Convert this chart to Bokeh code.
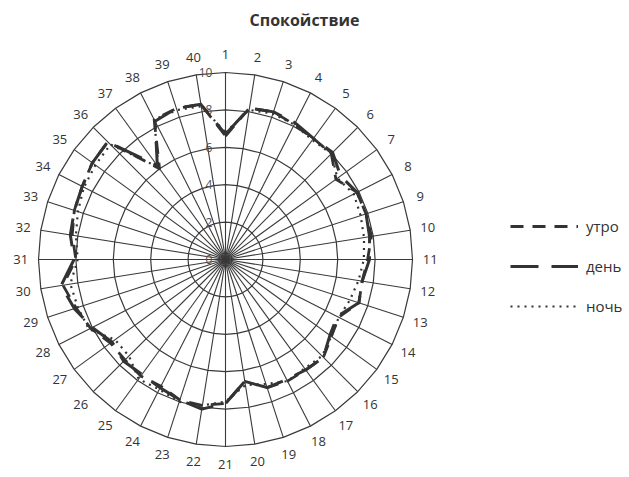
import numpy as np
from bokeh.plotting import figure
from bokeh.models import Range1d, Legend, LegendItem, Label
from bokeh.embed import file_html
from bokeh.resources import INLINE
from bokeh.core.properties import value

title_text = "Спокойствие"
spoke_labels = [str(i) for i in range(1, 41)]
ring_values = [0, 2, 4, 6, 8, 10]
ring_labels = ["0", "2", "4", "6", "8", "10"]
series_names = ["утро", "день", "ночь"]

utro = [6.6, 8.2, 8.3, 8.1, 8.0, 8.0, 7.3, 7.9, 7.9, 7.9,
        7.6, 7.4, 7.5, 6.8, 7.0, 7.4, 7.3, 7.3, 7.2, 6.6,
        7.7, 7.9, 7.9, 7.6, 7.7, 7.6, 7.6, 8.1, 8.4, 8.8,
        8.0, 8.3, 8.5, 8.6, 8.8, 8.9, 6.0, 8.4, 8.5, 8.4]
den = [6.7, 8.2, 8.3, 8.2, 8.0, 8.1, 7.6, 7.9, 7.9, 7.8,
       7.7, 7.4, 7.5, 6.7, 6.9, 7.4, 7.3, 7.2, 7.2, 6.6,
       7.7, 8.1, 7.9, 7.7, 7.6, 7.7, 7.5, 8.0, 8.5, 8.9,
       8.1, 8.4, 8.5, 8.6, 8.8, 8.9, 6.2, 8.3, 8.5, 8.4]
noch = [6.8, 8.1, 8.2, 8.1, 7.9, 8.0, 7.4, 7.7, 7.6, 7.5,
        7.4, 7.2, 7.0, 6.8, 7.0, 7.3, 7.2, 7.3, 7.0, 6.8,
        7.6, 7.9, 8.0, 7.8, 7.9, 7.3, 7.3, 8.2, 8.3, 8.4,
        7.9, 8.1, 8.3, 8.5, 8.6, 8.7, 6.1, 8.4, 8.4, 8.3]

W, H = 629, 477
S = 18.7            # pixels per value unit
CX, CY = 225, 259   # centre of the radar, in pixels from the top-left of the figure

p = figure(width=W, height=H, output_backend="svg", toolbar_location=None,
           x_range=Range1d(-CX / S, (W - CX) / S),
           y_range=Range1d(-(H - CY) / S, CY / S),
           x_axis_location=None, y_axis_location=None, min_border=0)
p.grid.visible = False
p.outline_line_color = None
p.background_fill_color = "white"
p.border_fill_color = "white"

n = len(spoke_labels)
theta = np.arange(n) * 2 * np.pi / n
sin_t, cos_t = np.sin(theta), np.cos(theta)
rmax = max(ring_values)

# grid rings (polygons) and spokes
ring_xs, ring_ys = [], []
for r in ring_values[1:]:
    ring_xs.append(list(np.append(r * sin_t, r * sin_t[0])))
    ring_ys.append(list(np.append(r * cos_t, r * cos_t[0])))
p.multi_line(ring_xs, ring_ys, line_color="#3a3a3a", line_width=1.2)
p.multi_line([[0, rmax * s] for s in sin_t], [[0, rmax * c] for c in cos_t],
             line_color="#3a3a3a", line_width=1.1)

# ring value labels
p.text(x=[-0.7] * len(ring_values), y=ring_values, text=ring_labels,
       text_align="right", text_baseline="middle", text_font=value("Open Sans"),
       text_font_size="12px", text_color="#505050")

# spoke labels
lr = 10.95
p.text(x=list(lr * sin_t), y=list(lr * cos_t), text=spoke_labels,
       text_align="center", text_baseline="middle", text_font=value("Open Sans"),
       text_font_size="13px", text_color="#333333")

def closed(vals):
    v = np.array(vals + vals[:1], dtype=float)
    t = np.append(theta, theta[0])
    return list(v * np.sin(t)), list(v * np.cos(t))

styles = [
    (utro, "13 9", 2.8),
    (den, "28 13", 3.0),
    (noch, "2 5", 2.2),
]
items = []
for name, (vals, dash, lw) in zip(series_names, styles):
    xs, ys = closed(vals)
    r = p.line(xs, ys, line_color="#333333", line_width=lw, line_dash=dash,
               line_join="round")
    items.append(LegendItem(label=name, renderers=[r]))

legend = Legend(items=items, location=(510, 161), orientation="vertical",
                glyph_width=68, glyph_height=20, label_height=20, spacing=20,
                padding=0, margin=0, label_standoff=8,
                label_text_font="Open Sans", label_text_font_size="15px",
                label_text_color="#333333", background_fill_alpha=0,
                border_line_alpha=0)
p.add_layout(legend)

p.add_layout(Label(x=304, y=H - 19, x_units="screen", y_units="screen",
                   text=title_text, text_align="center", text_baseline="middle",
                   text_font="Open Sans", text_font_style="bold",
                   text_font_size="16px", text_color="#333333"))

open("out.html", "w").write(file_html(p, INLINE))
